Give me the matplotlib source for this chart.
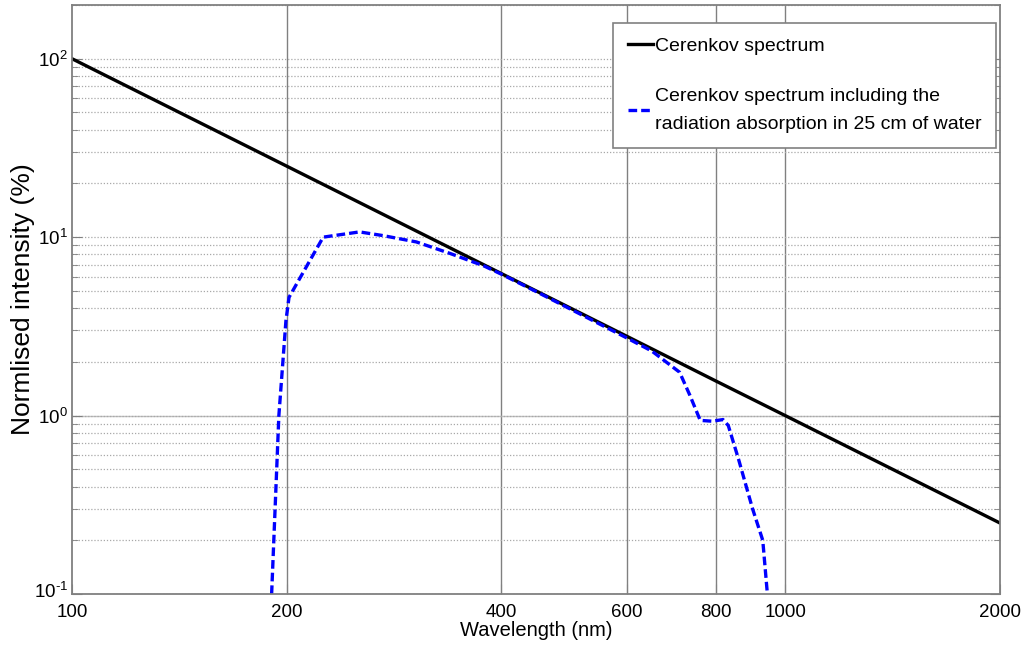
import numpy as np
import matplotlib
matplotlib.use('Agg')
import matplotlib.pyplot as plt
import matplotlib.transforms as mtransforms

plt.rcParams['font.family'] = ['Liberation Sans', 'DejaVu Sans']
plt.rcParams['mathtext.default'] = 'regular'
plt.rcParams['mathtext.fontset'] = 'custom'
plt.rcParams['mathtext.rm'] = 'Liberation Sans'

# Cerenkov spectrum
wl_cer = [100, 200, 400, 600, 800, 1000, 2000]
int_cer = [100, 25, 6.25, 2.78, 1.56, 1.0, 0.25]

# Cerenkov spectrum including absorption in 25 cm of water
wl_abs = [190.5, 195, 199.5, 201.5, 225, 253, 273, 304, 339, 378, 400, 450,
          500, 550, 600, 613, 650, 711, 735, 760, 790, 818, 832, 860, 900,
          930, 944]
int_abs = [0.1, 1.0, 3.4, 4.6, 10.0, 10.7, 10.2, 9.4, 8.1, 6.9, 6.2, 4.9,
           3.95, 3.25, 2.72, 2.6, 2.3, 1.75, 1.3, 0.94, 0.93, 0.95, 0.88, 0.57,
           0.3, 0.2, 0.1]

x_ticks = [100, 200, 400, 600, 800, 1000, 2000]
x_grid = [200, 400, 600, 800, 1000]

fig = plt.figure(figsize=(10.33, 6.49), dpi=100)
ax = fig.add_axes([0.0697, 0.0847, 0.8983, 0.9076])

ax.plot(wl_cer, int_cer, color='black', lw=2.4, label='Cerenkov spectrum')
ax.plot(wl_abs, int_abs, color='#0000ff', lw=2.4, linestyle=(0, (2.6, 1.2)),
        label='Cerenkov spectrum including the\nradiation absorption in 25 cm of water')

ax.set_xscale('log')
ax.set_yscale('log')
ax.set_xlim(100, 2000)
ax.set_ylim(0.1, 200)

ax.set_xticks(x_ticks)
ax.set_xticklabels([str(t) for t in x_ticks])
ax.xaxis.set_minor_locator(matplotlib.ticker.NullLocator())
ax.set_yticks([0.1, 1, 10, 100])
ax.set_yticklabels(['$10^{\u20101}$', '$10^{0}$', '$10^{1}$', '$10^{2}$'])

for xg in x_grid:
    ax.axvline(xg, color='#808080', lw=1.0, zorder=0)
ax.yaxis.grid(True, which='both', color='#a8a8a8', linestyle=(0, (1, 1.5)), lw=0.9)
ax.axhline(1.0, color='#c0c0c0', lw=1.0, zorder=0)

ax.tick_params(which='both', direction='in', right=True, top=False, labelsize=13.5,
               color='#808080')
ax.tick_params(which='major', length=7)
ax.tick_params(which='minor', length=4)
ax.tick_params(axis='x', pad=7)
ax.tick_params(axis='y', pad=3)
for sp in ax.spines.values():
    sp.set_color('#808080')
    sp.set_linewidth(1.3)

# lift the lowest y label a little so it clears the "100"
lab0 = ax.get_yticklabels()[0]
lab0.set_transform(lab0.get_transform() +
                   mtransforms.ScaledTranslation(0, 3 / 72, fig.dpi_scale_trans))

ax.set_xlabel('Wavelength (nm)', fontsize=14.5, labelpad=0)
ax.set_ylabel('Normlised intensity (%)', fontsize=19)
ax.yaxis.set_label_coords(-0.04, 0.5)

leg = ax.legend(loc='upper right', bbox_to_anchor=(0.996, 0.9694), fontsize=14,
                handlelength=1.3, handletextpad=0.1, fancybox=False,
                framealpha=1, edgecolor='#808080', borderpad=0.75,
                labelspacing=1.7, borderaxespad=0)
leg.get_frame().set_linewidth(1.2)
for t in leg.get_texts():
    t.set_linespacing(1.85)

fig.savefig('out.png', dpi=100)
